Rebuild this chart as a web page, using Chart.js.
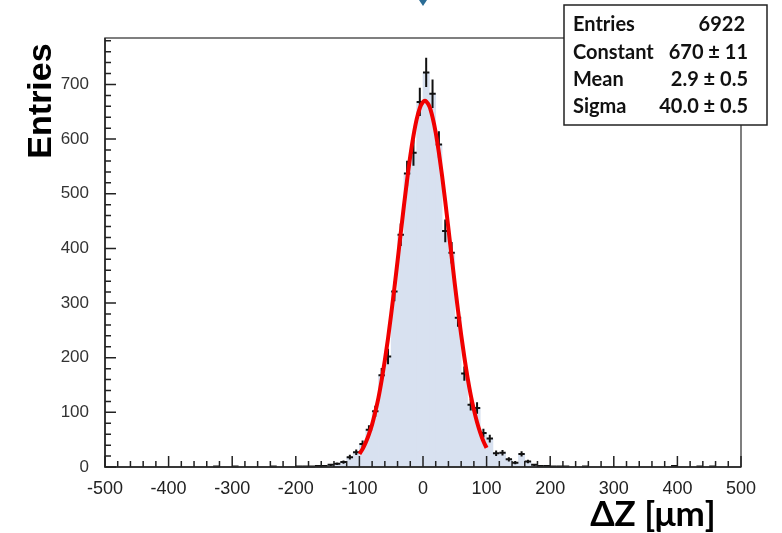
<!DOCTYPE html>
<html>
<head>
<meta charset="utf-8">
<script src="https://cdn.jsdelivr.net/npm/chart.js@4.4.1/dist/chart.umd.min.js"></script>
<style>
  html, body { margin: 0; padding: 0; background: #fff; }
  #wrap { width: 782px; height: 533px; }
</style>
</head>
<body>
<div id="wrap"><canvas id="chart" width="782" height="533"></canvas></div>
<script>
// Histogram bins (centre of each 10 um bin) and their contents
const binCenters = [-325, -295, -235, -195, -185, -175, -165, -155, -145, -135,
  -125, -115, -105, -95, -85, -75, -65, -55, -45, -35,
  -25, -15, -5, 5, 15, 25, 35, 45, 55, 65,
  75, 85, 95, 105, 115, 125, 135, 145, 155, 165,
  175, 185, 195, 205, 215, 225, 255, 395, 435, 455]
const binCounts = [1, 1, 1, 1, 1, 1, 2, 2, 4, 6,
  9, 18, 27, 42, 68, 102, 168, 202, 321, 425,
  537, 575, 668, 722, 683, 590, 432, 392, 273, 171,
  114, 108, 62, 52, 25, 26, 14, 8, 24, 10,
  4, 2, 2, 1, 1, 1, 1, 2, 1, 1]

// Red fit curve, sampled along the drawn line
const fitX = [-100, -95, -90, -85, -80, -75, -70, -65, -60, -55, -50, -45, -40, -35, -30, -25, -20, -15, -10, -5,
  0, 3, 5, 10, 15, 20, 25, 30, 35, 40, 45, 50, 55, 60, 65, 70, 75, 80, 85, 90, 95, 100]
const fitY = [24, 33, 45, 60, 78, 101, 127, 159, 195, 235, 280, 327, 377, 428, 478, 525, 569, 606, 636, 657,
  668, 670, 669, 660, 640, 612, 575, 533, 486, 436, 385, 335, 287, 242, 201, 164, 132, 105, 82, 63, 47, 35]

const xTickLabels = [-500, -400, -300, -200, -100, 0, 100, 200, 300, 400, 500]
const yTickLabels = [0, 100, 200, 300, 400, 500, 600, 700]

const statsRows = [
  ["Entries", "6922"],
  ["Constant", "670 \u00b1 11"],
  ["Mean", "2.9 \u00b1 0.5"],
  ["Sigma", "40.0 \u00b1 0.5"],
]

// error bars drawn right after the histogram, before the fit line
const errorBars = {
  id: "errorBars",
  afterDatasetDraw(chart, args) {
    if (args.index !== 1) return
    const { ctx, scales } = chart
    const xs = scales.x, ys = scales.y
    ctx.save()
    ctx.strokeStyle = "#111"
    ctx.lineWidth = 2
    binCenters.forEach((c, i) => {
      const n = binCounts[i]
      const err = Math.sqrt(n)
      const x = xs.getPixelForValue(c)
      const y = ys.getPixelForValue(n)
      const x0 = xs.getPixelForValue(c - 5)
      const x1 = xs.getPixelForValue(c + 5)
      ctx.beginPath()
      ctx.moveTo(x0, y)
      ctx.lineTo(x1, y)
      ctx.moveTo(x, ys.getPixelForValue(Math.max(0, n - err)))
      ctx.lineTo(x, ys.getPixelForValue(n + err))
      ctx.stroke()
    })
    ctx.restore()
  },
}

// ROOT-like frame, inner ticks, axis titles and stats box
const decorations = {
  id: "decorations",
  afterDraw(chart) {
    const { ctx, chartArea: a, scales } = chart
    const xs = scales.x, ys = scales.y
    ctx.save()

    // frame
    ctx.strokeStyle = "#555"
    ctx.lineWidth = 1.5
    ctx.strokeRect(a.left, a.top, a.right - a.left, a.bottom - a.top)
    ctx.strokeStyle = "#222"
    ctx.beginPath()
    ctx.moveTo(a.left, a.top)
    ctx.lineTo(a.left, a.bottom)
    ctx.lineTo(a.right, a.bottom)
    ctx.stroke()

    // ticks
    ctx.lineWidth = 1.5
    ctx.beginPath()
    for (let v = -500; v <= 500; v += 20) {
      const x = xs.getPixelForValue(v)
      const len = v % 100 === 0 ? 11 : 6
      ctx.moveTo(x, a.bottom)
      ctx.lineTo(x, a.bottom - len)
    }
    for (let v = 0; v <= 780; v += 20) {
      const y = ys.getPixelForValue(v)
      const len = v % 100 === 0 ? 11 : 6
      ctx.moveTo(a.left, y)
      ctx.lineTo(a.left + len, y)
    }
    ctx.stroke()

    // axis titles
    ctx.fillStyle = "#000"
    ctx.font = "bold 34px 'Liberation Sans', Arial, sans-serif"
    ctx.textAlign = "center"
    ctx.textBaseline = "middle"
    ctx.save()
    ctx.translate(42, 101)
    ctx.rotate(-Math.PI / 2)
    ctx.fillText("Entries", 0, 0)
    ctx.restore()
    ctx.font = "bold 35px Lato, 'Open Sans', sans-serif"
    ctx.fillText("\u0394Z [\u03bcm]", 653, 515)

    // stats box
    ctx.fillStyle = "#fff"
    ctx.fillRect(564, 5, 203, 120)
    ctx.strokeStyle = "#222"
    ctx.lineWidth = 1.5
    ctx.strokeRect(564, 5, 203, 120)
    ctx.fillStyle = "#111"
    ctx.font = "bold 20px Lato, 'Open Sans', sans-serif"
    statsRows.forEach((row, i) => {
      const y = 25 + i * 27.3
      ctx.textAlign = "left"
      ctx.fillText(row[0], 573, y)
      ctx.textAlign = "right"
      ctx.fillText(row[1], i === 0 ? 745 : 748, y)
    })

    // small arrow cut off at the top
    ctx.fillStyle = "#2b6c95"
    ctx.beginPath()
    ctx.moveTo(419, 0)
    ctx.lineTo(427, 0)
    ctx.lineTo(423, 6)
    ctx.closePath()
    ctx.fill()

    ctx.restore()
  },
}

new Chart(document.getElementById("chart"), {
  data: {
    datasets: [
      {
        type: "line",
        label: "Gaussian fit",
        data: fitX.map((x, i) => ({ x: x, y: fitY[i] })),
        borderColor: "rgb(240, 0, 0)",
        borderWidth: 4,
        pointRadius: 0,
        tension: 0.4,
        cubicInterpolationMode: "monotone",
        order: 0,
      },
      {
        type: "bar",
        label: "Entries",
        data: binCenters.map((c, i) => ({ x: c, y: binCounts[i] })),
        backgroundColor: "rgb(216, 225, 240)",
        borderWidth: 0,
        barPercentage: 1,
        categoryPercentage: 1,
        order: 1,
      },
    ],
  },
  options: {
    responsive: false,
    animation: false,
    layout: { padding: { top: 38, right: 41, left: 0, bottom: 0 } },
    plugins: { legend: { display: false }, tooltip: { enabled: false } },
    scales: {
      x: {
        type: "linear",
        min: -500,
        max: 500,
        offset: false,
        grid: { display: false, offset: false },
        border: { display: false },
        afterFit: (scale) => { scale.height = 66 },
        afterBuildTicks: (scale) => { scale.ticks = xTickLabels.map((v) => ({ value: v })) },
        ticks: {
          color: "#222",
          padding: 3,
          maxRotation: 0,
          autoSkip: false,
          font: { family: "'Liberation Sans', Arial, sans-serif", size: 18 },
        },
      },
      y: {
        min: 0,
        max: 785,
        grid: { display: false },
        border: { display: false },
        afterFit: (scale) => { scale.width = 105 },
        afterBuildTicks: (scale) => { scale.ticks = yTickLabels.map((v) => ({ value: v })) },
        ticks: {
          color: "#333",
          padding: 8,
          font: { family: "'Liberation Sans', Arial, sans-serif", size: 17 },
        },
      },
    },
  },
  plugins: [errorBars, decorations],
})
</script>
</body>
</html>
